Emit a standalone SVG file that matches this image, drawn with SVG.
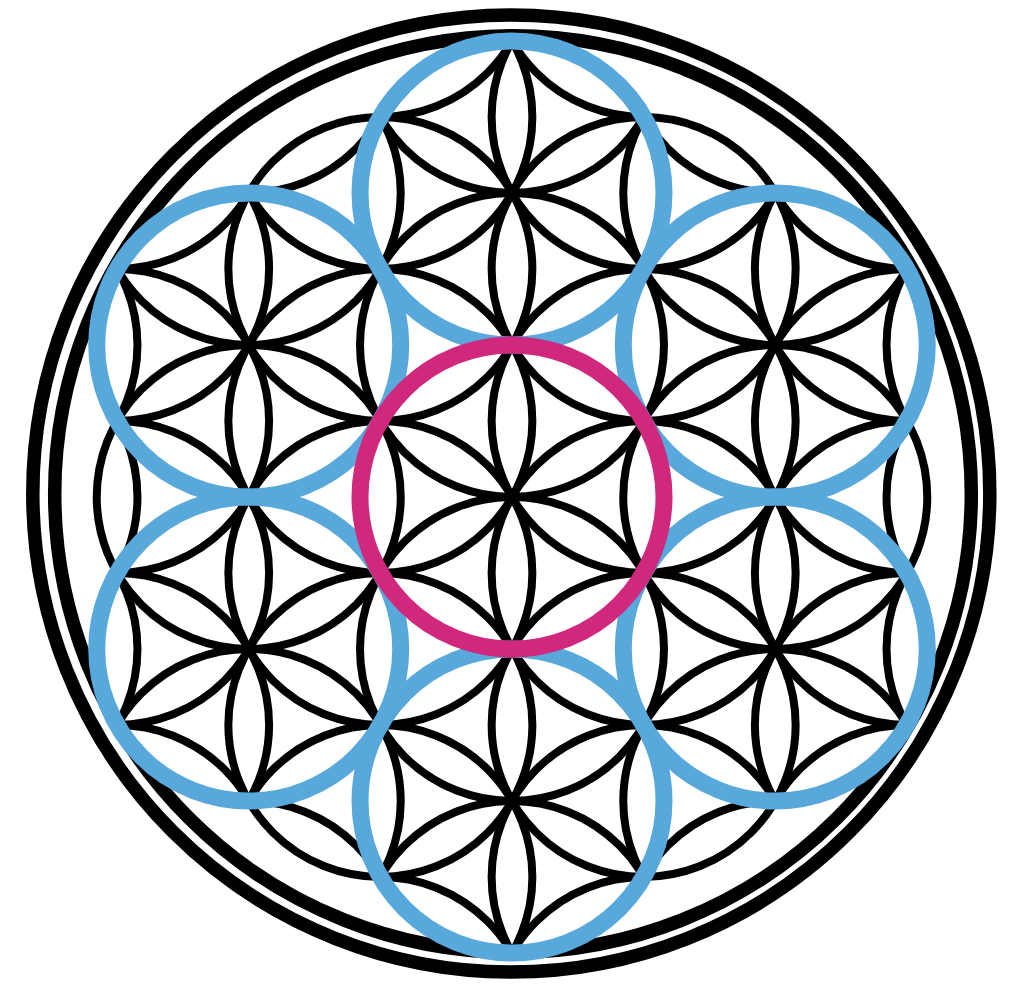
<svg xmlns="http://www.w3.org/2000/svg" width="1024" height="998" viewBox="0 0 1024 998">
<defs>
<style>
.k{fill:none;stroke:#000;stroke-width:8}
.r{fill:none;stroke:#000;stroke-width:13.5}
.b{fill:none;stroke:#58A8DC;stroke-width:17}
.m{fill:none;stroke:#D0287C;stroke-width:17}
</style>
<clipPath id="hex"><polygon points="512,41 906.91,269 906.91,725 512,953 117.09,725 117.09,269"/></clipPath>
</defs>
<rect width="1024" height="998" fill="#fff"/>
<g id="outer-rings">
<circle class="r" cx="511.3" cy="493.5" r="478.5"/>
<circle class="r" cx="513" cy="494" r="458.3"/>
</g>
<g id="connectors">
<g id="seed-circles">
<circle class="k" cx="512" cy="497" r="152"/>
<circle class="k" cx="512" cy="649" r="152"/>
<circle class="k" cx="512" cy="345" r="152"/>
<circle class="k" cx="643.64" cy="573" r="152"/>
<circle class="k" cx="380.36" cy="421" r="152"/>
<circle class="k" cx="643.64" cy="421" r="152"/>
<circle class="k" cx="380.36" cy="573" r="152"/>
<circle class="k" cx="643.64" cy="725" r="152"/>
<circle class="k" cx="380.36" cy="269" r="152"/>
<circle class="k" cx="775.27" cy="497" r="152"/>
<circle class="k" cx="248.73" cy="497" r="152"/>
<circle class="k" cx="643.64" cy="269" r="152"/>
<circle class="k" cx="380.36" cy="725" r="152"/>
<circle class="k" cx="512" cy="801" r="152"/>
<circle class="k" cx="512" cy="193" r="152"/>
<circle class="k" cx="775.27" cy="649" r="152"/>
<circle class="k" cx="248.73" cy="345" r="152"/>
<circle class="k" cx="775.27" cy="345" r="152"/>
<circle class="k" cx="248.73" cy="649" r="152"/>
</g>
<g id="outer-arcs" clip-path="url(#hex)">
<circle class="k" cx="512" cy="41" r="152"/>
<circle class="k" cx="643.64" cy="117" r="152"/>
<circle class="k" cx="775.27" cy="193" r="152"/>
<circle class="k" cx="906.91" cy="269" r="152"/>
<circle class="k" cx="906.91" cy="421" r="152"/>
<circle class="k" cx="906.91" cy="573" r="152"/>
<circle class="k" cx="906.91" cy="725" r="152"/>
<circle class="k" cx="775.27" cy="801" r="152"/>
<circle class="k" cx="643.64" cy="877" r="152"/>
<circle class="k" cx="512" cy="953" r="152"/>
<circle class="k" cx="380.36" cy="877" r="152"/>
<circle class="k" cx="248.73" cy="801" r="152"/>
<circle class="k" cx="117.09" cy="725" r="152"/>
<circle class="k" cx="117.09" cy="573" r="152"/>
<circle class="k" cx="117.09" cy="421" r="152"/>
<circle class="k" cx="117.09" cy="269" r="152"/>
<circle class="k" cx="248.73" cy="193" r="152"/>
<circle class="k" cx="380.36" cy="117" r="152"/>
<circle class="k" cx="643.64" cy="-35" r="152"/>
<circle class="k" cx="775.27" cy="41" r="152"/>
<circle class="k" cx="906.91" cy="117" r="152"/>
<circle class="k" cx="1038.54" cy="345" r="152"/>
<circle class="k" cx="1038.54" cy="497" r="152"/>
<circle class="k" cx="1038.54" cy="649" r="152"/>
<circle class="k" cx="906.91" cy="877" r="152"/>
<circle class="k" cx="775.27" cy="953" r="152"/>
<circle class="k" cx="643.64" cy="1029" r="152"/>
<circle class="k" cx="380.36" cy="1029" r="152"/>
<circle class="k" cx="248.73" cy="953" r="152"/>
<circle class="k" cx="117.09" cy="877" r="152"/>
<circle class="k" cx="-14.54" cy="649" r="152"/>
<circle class="k" cx="-14.54" cy="497" r="152"/>
<circle class="k" cx="-14.54" cy="345" r="152"/>
<circle class="k" cx="117.09" cy="117" r="152"/>
<circle class="k" cx="248.73" cy="41" r="152"/>
<circle class="k" cx="380.36" cy="-35" r="152"/>
</g>
</g>
<g id="blue-circles">
<circle id="blue-top" class="b" cx="512" cy="193" r="152"/>
<circle id="blue-upper-right" class="b" cx="775.27" cy="345" r="152"/>
<circle id="blue-lower-right" class="b" cx="775.27" cy="649" r="152"/>
<circle id="blue-bottom" class="b" cx="512" cy="801" r="152"/>
<circle id="blue-lower-left" class="b" cx="248.73" cy="649" r="152"/>
<circle id="blue-upper-left" class="b" cx="248.73" cy="345" r="152"/>
</g>
<g id="center-circle">
<circle class="m" cx="512" cy="497" r="152"/>
</g>
</svg>
